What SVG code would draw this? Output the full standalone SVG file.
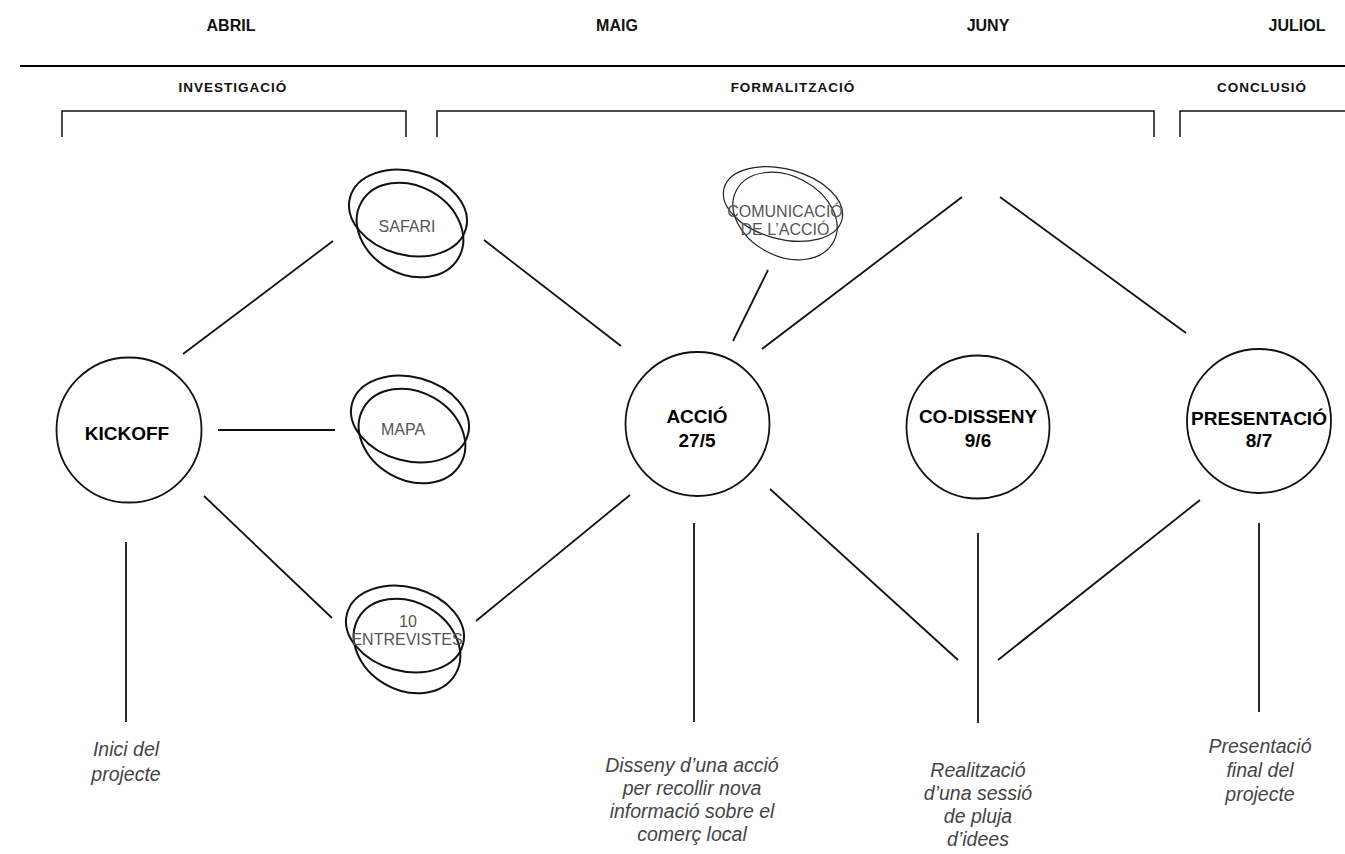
<svg xmlns="http://www.w3.org/2000/svg" xmlns:xlink="http://www.w3.org/1999/xlink" width="1345" height="854" viewBox="0 0 1345 854">
<style>
.month{font-family:"Liberation Sans",Arial,sans-serif;font-weight:bold;font-size:16px;fill:#111;text-anchor:middle}
.phase{font-family:"Liberation Sans",Arial,sans-serif;font-weight:bold;font-size:13.5px;letter-spacing:1px;fill:#111;text-anchor:middle}
.bracket{fill:none;stroke:#111;stroke-width:1.5}
.node{fill:#fff;stroke:#111;stroke-width:1.8}
.nlabel{font-family:"Liberation Sans",Arial,sans-serif;font-weight:bold;font-size:19px;fill:#000;text-anchor:middle}
.loop{fill:none;stroke:#111;stroke-width:2}
.loopthin{fill:none;stroke:#222;stroke-width:1.2}
.slabel{font-family:"Liberation Sans",Arial,sans-serif;font-size:16px;fill:#555;text-anchor:middle}
.desc{font-family:"Liberation Sans",Arial,sans-serif;font-style:italic;font-size:19.5px;fill:#444;text-anchor:middle}
.conn line{stroke:#111;stroke-width:1.8}
</style>
<defs>
<g id="scribble">
<ellipse cx="0" cy="-12" rx="60" ry="42" transform="rotate(15 0 -12)"/>
<ellipse cx="2" cy="5" rx="56" ry="44" transform="rotate(30 2 5)"/>
</g>
</defs>
<rect width="1345" height="854" fill="#fff"/>

<g id="header">
<text class="month" x="231" y="31">ABRIL</text>
<text class="month" x="617" y="31">MAIG</text>
<text class="month" x="988" y="31">JUNY</text>
<text class="month" x="1297" y="31">JULIOL</text>
<line x1="20" y1="66" x2="1345" y2="66" stroke="#000" stroke-width="2.2"/>
<text class="phase" x="233" y="92">INVESTIGACIÓ</text>
<text class="phase" x="793" y="92">FORMALITZACIÓ</text>
<text class="phase" x="1262" y="92">CONCLUSIÓ</text>
<path class="bracket" d="M62,137 V111 H406 V137"/>
<path class="bracket" d="M437,137 V111 H1154 V137"/>
<path class="bracket" d="M1180,137 V111 H1345"/>
</g>

<g id="connectors" class="conn">
<line x1="183" y1="354" x2="333" y2="241"/>
<line x1="218" y1="430" x2="335" y2="430"/>
<line x1="204" y1="496" x2="332" y2="618"/>
<line x1="484" y1="240" x2="621" y2="346"/>
<line x1="476" y1="621" x2="630" y2="495"/>
<line x1="733" y1="341" x2="768" y2="270"/>
<line x1="762" y1="349" x2="962" y2="197"/>
<line x1="1000" y1="197" x2="1186" y2="333"/>
<line x1="770" y1="489" x2="958" y2="660"/>
<line x1="998" y1="660" x2="1200" y2="500"/>
<line x1="126" y1="542" x2="126" y2="722"/>
<line x1="694" y1="523" x2="694" y2="722"/>
<line x1="978" y1="533" x2="978" y2="723"/>
<line x1="1259" y1="523" x2="1259" y2="712"/>
</g>

<g id="kickoff">
<circle class="node" cx="129" cy="430" r="72.5"/>
<text class="nlabel" x="127" y="440">KICKOFF</text>
</g>
<g id="accio">
<circle class="node" cx="697.5" cy="424" r="72"/>
<text class="nlabel" x="697" y="423">ACCIÓ</text>
<text class="nlabel" x="697" y="447">27/5</text>
</g>
<g id="codisseny">
<circle class="node" cx="978" cy="427" r="71.5"/>
<text class="nlabel" x="978" y="423">CO-DISSENY</text>
<text class="nlabel" x="978" y="447">9/6</text>
</g>
<g id="presentacio">
<circle class="node" cx="1259" cy="421" r="72"/>
<text class="nlabel" x="1259" y="425">PRESENTACIÓ</text>
<text class="nlabel" x="1259" y="447">8/7</text>
</g>

<g id="safari">
<use xlink:href="#scribble" class="loop" transform="translate(408,225)"/>
<text class="slabel" x="407" y="232">SAFARI</text>
</g>
<g id="mapa">
<use xlink:href="#scribble" class="loop" transform="translate(410,431)"/>
<text class="slabel" x="403" y="435">MAPA</text>
</g>
<g id="entrevistes">
<use xlink:href="#scribble" class="loop" transform="translate(405,641)"/>
<text class="slabel" x="408" y="627">10</text>
<text class="slabel" x="407" y="645">ENTREVISTES</text>
</g>
<g id="comunicacio">
<g class="loopthin" transform="translate(783,210)">
<ellipse cx="0" cy="-6" rx="61" ry="35" transform="rotate(15 0 -6)"/>
<ellipse cx="2" cy="6" rx="55" ry="40" transform="rotate(28 2 6)"/>
</g>
<text class="slabel" x="785" y="217">COMUNICACIÓ</text>
<text class="slabel" x="785" y="235">DE L’ACCIÓ</text>
</g>

<g id="descriptions">
<text class="desc" x="126" y="756">Inici del</text>
<text class="desc" x="126" y="781">projecte</text>
<text class="desc" x="692" y="772">Disseny d’una acció</text>
<text class="desc" x="692" y="795">per recollir nova</text>
<text class="desc" x="692" y="818">informació sobre el</text>
<text class="desc" x="692" y="841">comerç local</text>
<text class="desc" x="978" y="777">Realització</text>
<text class="desc" x="978" y="800">d’una sessió</text>
<text class="desc" x="978" y="823">de pluja</text>
<text class="desc" x="978" y="846">d’idees</text>
<text class="desc" x="1260" y="753">Presentació</text>
<text class="desc" x="1260" y="777">final del</text>
<text class="desc" x="1260" y="801">projecte</text>
</g>
</svg>
